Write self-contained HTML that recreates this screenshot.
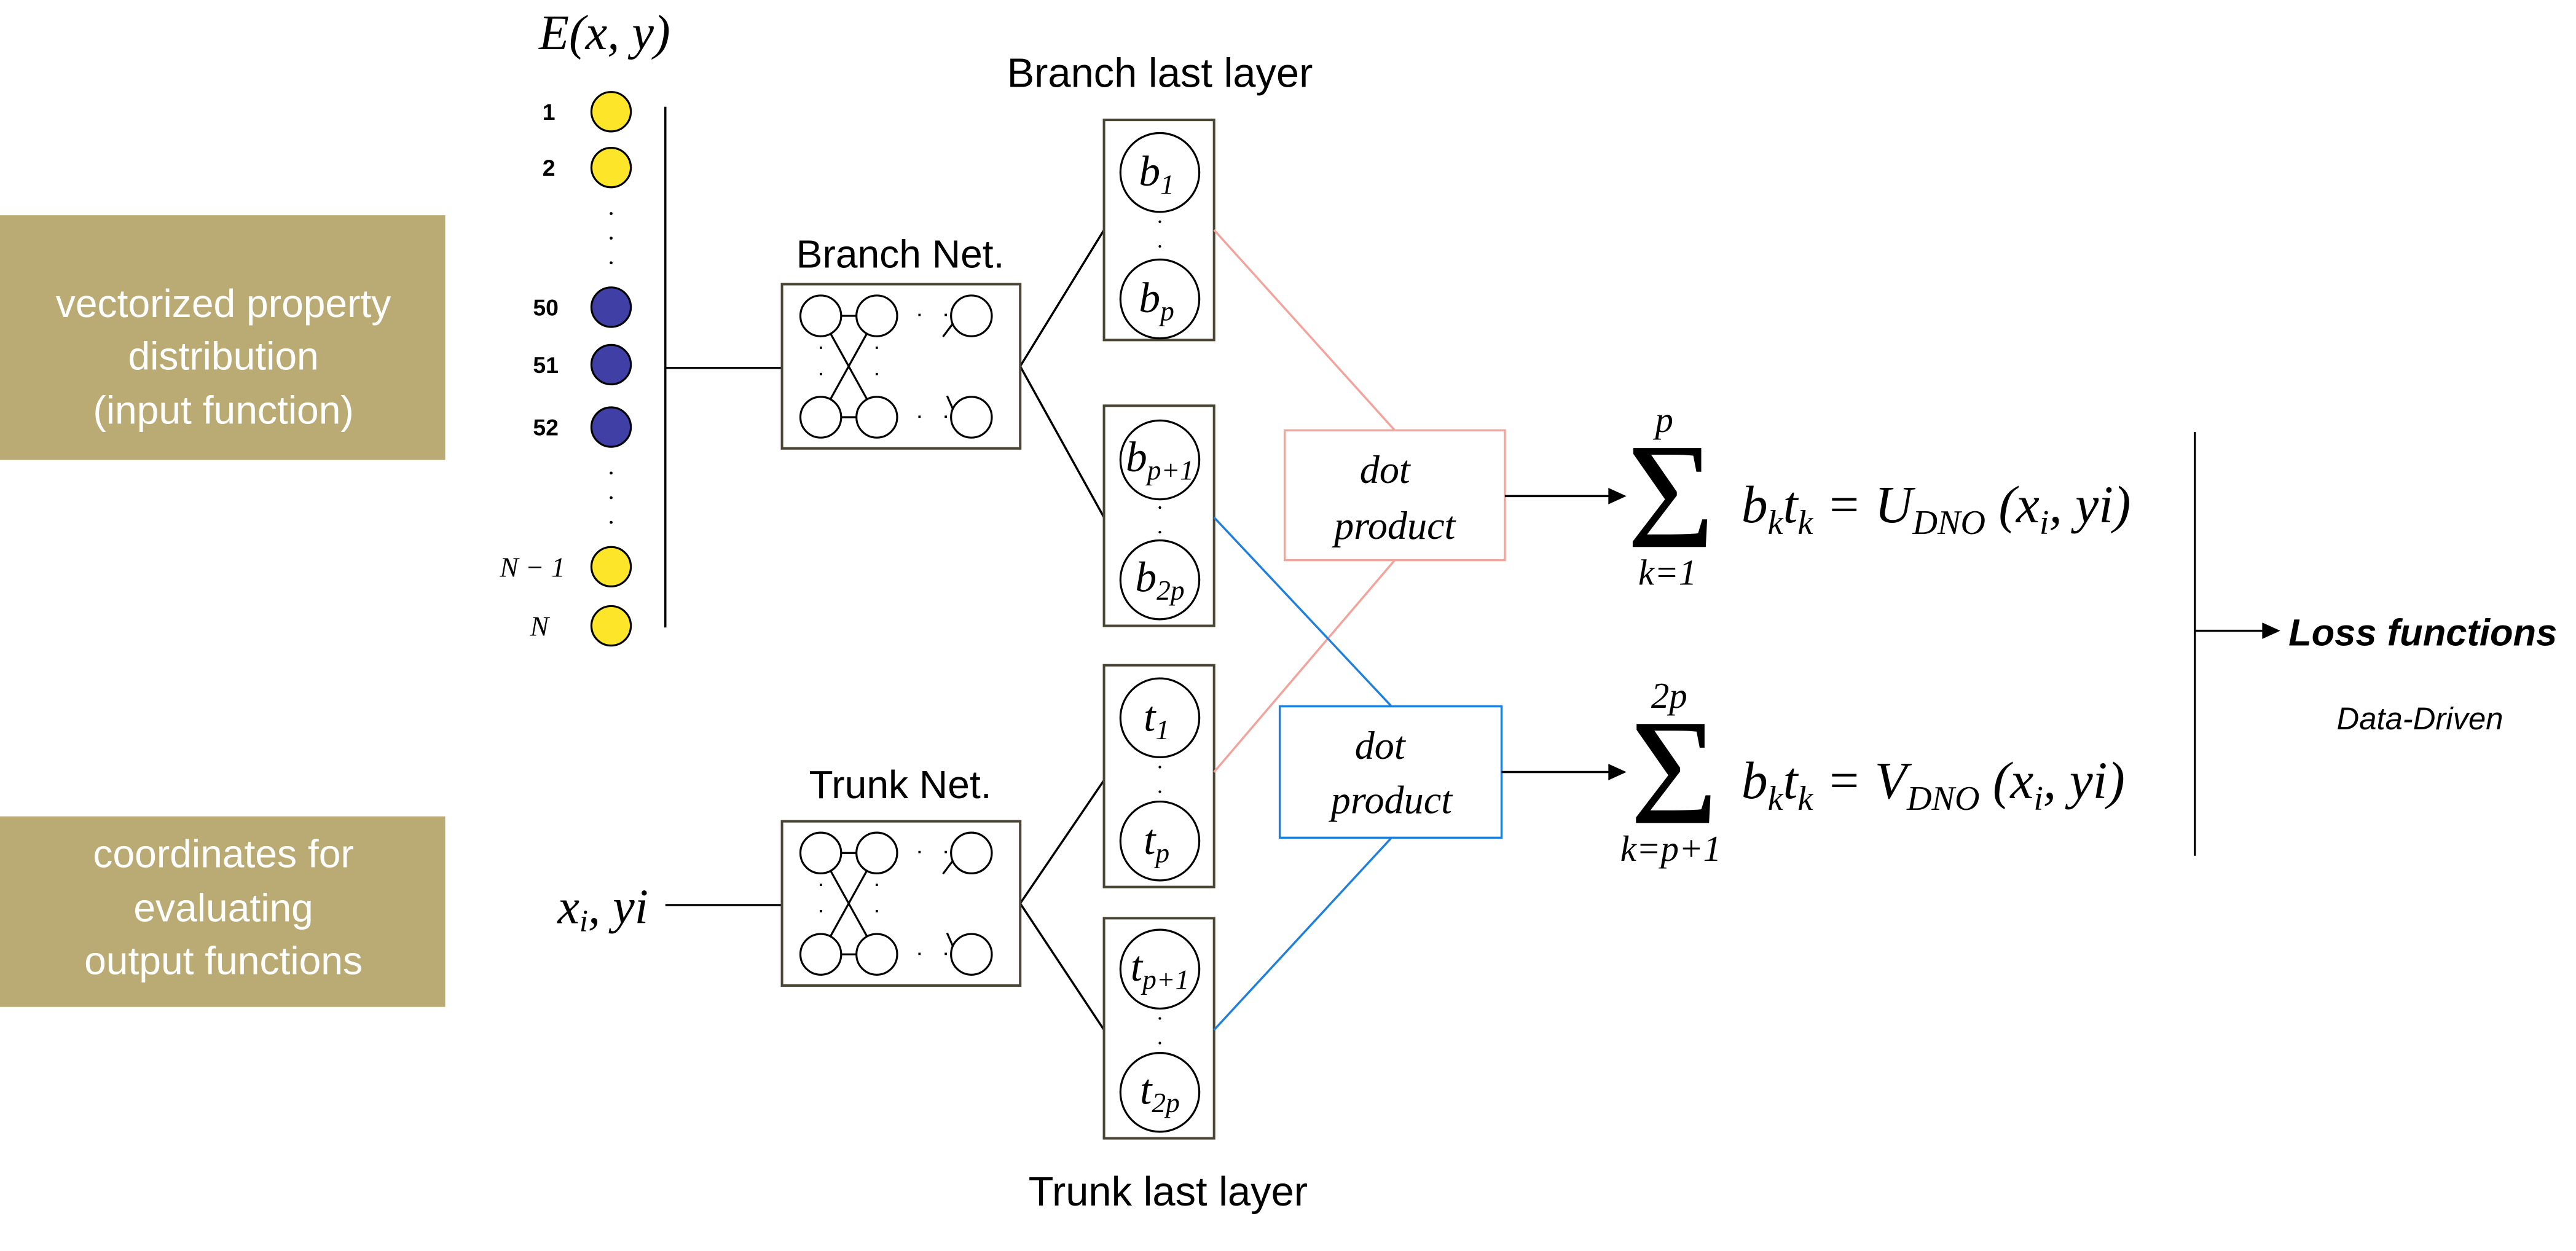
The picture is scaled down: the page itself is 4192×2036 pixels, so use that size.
<!DOCTYPE html>
<html><head><meta charset="utf-8"><style>
html,body{margin:0;padding:0;background:#fff;width:4192px;height:2036px;overflow:hidden}
svg{display:block}
.s{font-family:"Liberation Sans",sans-serif}
.m{font-family:"Liberation Serif",serif;font-style:italic}
</style></head><body>
<svg width="4192" height="2036" viewBox="0 0 1568 761.6" preserveAspectRatio="none" xmlns="http://www.w3.org/2000/svg">
<rect width="1568" height="762" fill="#fff"/>
<rect x="0" y="131" width="271" height="149" fill="#b9ab73"/>
<text class="s" fill="#fff" font-size="24" text-anchor="middle"><tspan x="136" y="193">vectorized property</tspan><tspan x="136" y="225">distribution</tspan><tspan x="136" y="258">(input function)</tspan></text>
<rect x="0" y="497" width="271" height="116" fill="#b9ab73"/>
<text class="s" fill="#fff" font-size="24" text-anchor="middle"><tspan x="136" y="528">coordinates for</tspan><tspan x="136" y="561">evaluating</tspan><tspan x="136" y="593">output functions</tspan></text>
<text class="m" x="368" y="30" font-size="30" text-anchor="middle">E(x, y)</text>
<g stroke="#000" stroke-width="1.2">
<circle cx="372" cy="68" r="12" fill="#fde629"/>
<circle cx="372" cy="102" r="12" fill="#fde629"/>
<circle cx="372" cy="187" r="12" fill="#3f3fa6"/>
<circle cx="372" cy="222" r="12" fill="#3f3fa6"/>
<circle cx="372" cy="260" r="12" fill="#3f3fa6"/>
<circle cx="372" cy="345" r="12" fill="#fde629"/>
<circle cx="372" cy="381" r="12" fill="#fde629"/>
</g>
<g fill="#000"><circle cx="372" cy="130" r="0.9"/><circle cx="372" cy="145" r="0.9"/><circle cx="372" cy="160" r="0.9"/><circle cx="372" cy="288" r="0.9"/><circle cx="372" cy="303" r="0.9"/><circle cx="372" cy="318" r="0.9"/></g>
<g class="s" font-size="14" font-weight="bold" text-anchor="end">
<text x="338" y="73">1</text><text x="338" y="107">2</text><text x="340" y="192">50</text><text x="340" y="227">51</text><text x="340" y="265">52</text></g>
<text class="m" x="344" y="351" font-size="17" text-anchor="end">N − 1</text>
<text class="m" x="334" y="387" font-size="17" text-anchor="end">N</text>
<g stroke="#000" stroke-width="1.3" fill="none">
<line x1="405" y1="65" x2="405" y2="382"/>
<line x1="405" y1="224" x2="476" y2="224"/>
<line x1="621" y1="223" x2="672" y2="140"/>
<line x1="621" y1="223" x2="672" y2="315"/>
<line x1="405" y1="551" x2="476" y2="551"/>
<line x1="621" y1="550" x2="672" y2="475"/>
<line x1="621" y1="550" x2="672" y2="627"/>
</g>
<text class="s" x="548" y="163" font-size="24" text-anchor="middle">Branch Net.</text>
<text class="s" x="548" y="486" font-size="24" text-anchor="middle">Trunk Net.</text>
<g id="net">
<rect x="476" y="173" width="145" height="100" fill="none" stroke="#4a4535" stroke-width="1.5"/>
<g stroke="#000" stroke-width="1.2" fill="none">
<circle cx="499.6" cy="192.3" r="12.4"/><circle cx="533.7" cy="192.3" r="12.4"/><circle cx="591.3" cy="192.3" r="12.4"/>
<circle cx="499.6" cy="254" r="12.4"/><circle cx="533.7" cy="254" r="12.4"/><circle cx="591.3" cy="254" r="12.4"/>
<line x1="512" y1="192.3" x2="521.3" y2="192.3"/><line x1="512" y1="254" x2="521.3" y2="254"/>
<line x1="505.5" y1="203" x2="527.7" y2="243"/><line x1="527.7" y1="203" x2="505.5" y2="243"/>
<line x1="574" y1="205" x2="580" y2="197"/><line x1="576.5" y1="241" x2="580" y2="249"/>
</g>
<g fill="#000"><rect x="559" y="191" width="1.4" height="1.4"/><rect x="575" y="191" width="1.4" height="1.4"/><rect x="559" y="253" width="1.4" height="1.4"/><rect x="575" y="253" width="1.4" height="1.4"/>
<rect x="499" y="211" width="1.4" height="1.4"/><rect x="499" y="227" width="1.4" height="1.4"/><rect x="533" y="211" width="1.4" height="1.4"/><rect x="533" y="227" width="1.4" height="1.4"/></g>
</g>
<use href="#net" transform="translate(0,327)"/>
<text class="m" x="367" y="562" font-size="30" text-anchor="middle">x<tspan font-size="19" dy="5">i</tspan><tspan dy="-5">, yi</tspan></text>
<text class="s" x="706" y="53" font-size="25" text-anchor="middle">Branch last layer</text>
<text class="s" x="711" y="734" font-size="25" text-anchor="middle">Trunk last layer</text>
<g stroke="#4a4535" stroke-width="1.5" fill="none">
<rect x="672" y="73" width="67" height="134"/><rect x="672" y="247" width="67" height="134"/>
<rect x="672" y="405" width="67" height="135"/><rect x="672" y="559" width="67" height="134"/>
</g>
<g stroke="#000" stroke-width="1.2" fill="none">
<circle cx="706" cy="105" r="24"/><circle cx="706" cy="182" r="24"/>
<circle cx="706" cy="280" r="24"/><circle cx="706" cy="353" r="24"/>
<circle cx="706" cy="437" r="24"/><circle cx="706" cy="512" r="24"/>
<circle cx="706" cy="590" r="24"/><circle cx="706" cy="665" r="24"/>
</g>
<g fill="#000"><circle cx="706" cy="135" r="0.8"/><circle cx="706" cy="150" r="0.8"/><circle cx="706" cy="309" r="0.8"/><circle cx="706" cy="324" r="0.8"/><circle cx="706" cy="467" r="0.8"/><circle cx="706" cy="482" r="0.8"/><circle cx="706" cy="620" r="0.8"/><circle cx="706" cy="635" r="0.8"/></g>
<g class="m" font-size="26" text-anchor="middle">
<text x="704" y="113">b<tspan font-size="17" dy="5">1</tspan></text>
<text x="704" y="190">b<tspan font-size="17" dy="5">p</tspan></text>
<text x="706" y="287">b<tspan font-size="17" dy="5">p+1</tspan></text>
<text x="706" y="360">b<tspan font-size="17" dy="5">2p</tspan></text>
<text x="704" y="445">t<tspan font-size="17" dy="5">1</tspan></text>
<text x="704" y="520">t<tspan font-size="17" dy="5">p</tspan></text>
<text x="706" y="597">t<tspan font-size="17" dy="5">p+1</tspan></text>
<text x="706" y="672">t<tspan font-size="17" dy="5">2p</tspan></text>
</g>
<g stroke="#f2a49c" stroke-width="1.3"><line x1="739" y1="140" x2="849" y2="262"/><line x1="739" y1="470" x2="849" y2="341"/></g>
<g stroke="#1f7fdc" stroke-width="1.3"><line x1="739" y1="315" x2="847" y2="430"/><line x1="739" y1="627" x2="847" y2="510"/></g>
<rect x="782" y="262" width="134" height="79" fill="#fff" stroke="#f2a49c" stroke-width="1.3"/>
<rect x="779" y="430" width="135" height="80" fill="#fff" stroke="#1f7fdc" stroke-width="1.3"/>
<g class="m" font-size="24" text-anchor="middle">
<text x="843" y="294">dot</text><text x="849" y="328">product</text>
<text x="840" y="462">dot</text><text x="847" y="495">product</text></g>
<g stroke="#000" stroke-width="1.3"><line x1="916" y1="302" x2="982" y2="302"/><line x1="914" y1="470" x2="982" y2="470"/><line x1="1336" y1="263" x2="1336" y2="521"/><line x1="1336" y1="384" x2="1380" y2="384"/></g>
<g fill="#000"><polygon points="990,302 979,297 979,307"/><polygon points="990,470 979,465 979,475"/><polygon points="1388,384 1377,379 1377,389"/></g>
<text x="1017" y="333" font-family="Liberation Serif,serif" font-size="92" text-anchor="middle">Σ</text>
<text class="m" x="1013" y="263" font-size="22" text-anchor="middle">p</text>
<text class="m" x="1015" y="356" font-size="22" text-anchor="middle">k=1</text>
<text class="m" x="1060" y="318" font-size="32">b<tspan font-size="21" dy="7">k</tspan><tspan dy="-7">t</tspan><tspan font-size="21" dy="7">k</tspan><tspan dy="-7"> = U</tspan><tspan font-size="21" dy="7">DNO</tspan><tspan dy="-7"> (x</tspan><tspan font-size="21" dy="7">i</tspan><tspan dy="-7">, yi)</tspan></text>
<text x="1019" y="501" font-family="Liberation Serif,serif" font-size="92" text-anchor="middle">Σ</text>
<text class="m" x="1016" y="431" font-size="22" text-anchor="middle">2p</text>
<text class="m" x="1017" y="524" font-size="22" text-anchor="middle">k=p+1</text>
<text class="m" x="1060" y="486" font-size="32">b<tspan font-size="21" dy="7">k</tspan><tspan dy="-7">t</tspan><tspan font-size="21" dy="7">k</tspan><tspan dy="-7"> = V</tspan><tspan font-size="21" dy="7">DNO</tspan><tspan dy="-7"> (x</tspan><tspan font-size="21" dy="7">i</tspan><tspan dy="-7">, yi)</tspan></text>
<text class="s" x="1393" y="393" font-size="23" font-weight="bold" font-style="italic">Loss functions</text>
<text class="s" x="1473" y="444" font-size="19" font-style="italic" text-anchor="middle">Data-Driven</text>
</svg>
</body></html>
